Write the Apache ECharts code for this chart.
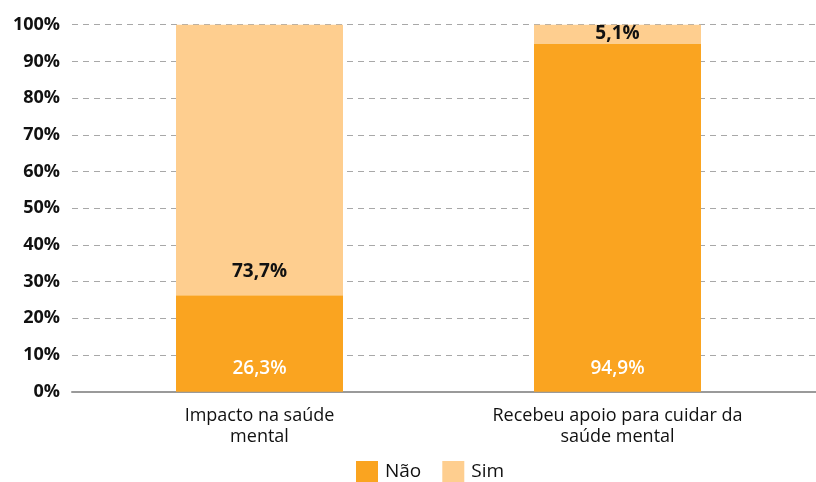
<!DOCTYPE html>
<html><head><meta charset="utf-8">
<script src="https://cdn.jsdelivr.net/npm/echarts@6/dist/echarts.min.js"></script>
<style>html,body{margin:0;padding:0;background:#fff}#c{width:816px;height:482px}</style>
</head><body><div id="c"></div>
<script>
var categories = ['Impacto na saúde\nmental', 'Recebeu apoio para cuidar da\nsaúde mental'];
var seriesNames = ['Não', 'Sim'];
var naoValues = [26.3, 94.9];
var simValues = [73.7, 5.1];
var yTicks = [0, 10, 20, 30, 40, 50, 60, 70, 80, 90, 100];

var FONT = '"Open Sans", "Noto Sans", sans-serif';
function fmt(v){ return v.toFixed(1).replace('.', ',') + '%'; }

var chart = echarts.init(document.getElementById('c'), null, {renderer:'canvas'});
chart.setOption({
  animation: false,
  textStyle: {fontFamily: FONT},
  legend: {
    bottom: 0, left: 356, itemWidth: 22, itemHeight: 21, itemGap: 21,
    icon: 'rect', padding: 0,
    textStyle: {fontSize: 19, fontWeight: 500, color: '#111', fontFamily: FONT, padding: [0, 0, 0, 2]},
    data: seriesNames
  },
  grid: [
    {left: 72, right: 0, top: 24.7, bottom: 90.3, containLabel: false},
    {left: 80.5, right: 19.5, top: 24.7, bottom: 90.3, containLabel: false}
  ],
  xAxis: [
    {gridIndex: 0, type: 'value', min: 0, max: 1, axisLabel: {show: false}, axisTick: {show: false},
     splitLine: {show: false}, axisLine: {show: true, lineStyle: {color: '#9a9a9a', width: 2}}},
    {gridIndex: 1, type: 'category', data: categories,
     axisLine: {show: false}, axisTick: {show: false},
     axisLabel: {color: '#111', fontSize: 18, fontWeight: 500, lineHeight: 21, margin: 14, fontFamily: FONT}}
  ],
  yAxis: [
    {gridIndex: 0, type: 'value', min: 0, max: 100, interval: 10,
     axisLine: {show: false}, axisTick: {show: false},
     axisLabel: {formatter: function(v){ return yTicks.indexOf(v) >= 0 ? v + '%' : ''; },
       color: '#111', fontSize: 18, fontWeight: 'bold', margin: 12, fontFamily: FONT},
     splitLine: {show: true, lineStyle: {color: '#a8a8a8', type: [6, 5], width: 1}}},
    {gridIndex: 1, type: 'value', min: 0, max: 100, show: false}
  ],
  series: [
    {name: 'Não', type: 'bar', stack: 'a', xAxisIndex: 1, yAxisIndex: 1, barWidth: 167,
     itemStyle: {color: '#FAA420'},
     label: {show: true, position: 'insideBottom', distance: 14, color: '#ffffff', fontSize: 19,
       fontWeight: 600, fontFamily: FONT, formatter: function(p){ return fmt(p.value); }},
     data: naoValues},
    {name: 'Sim', type: 'bar', stack: 'a', xAxisIndex: 1, yAxisIndex: 1, barWidth: 167,
     itemStyle: {color: '#FECE8F'},
     label: {show: true, color: '#111', fontSize: 19, fontWeight: 'bold', fontFamily: FONT,
       formatter: function(p){ return fmt(p.value); }},
     data: simValues.map(function(v, i){
       return {value: v, label: v > 20 ? {position: 'insideBottom', distance: 14} : {position: 'inside'}};
     })}
  ]
});
</script></body></html>
